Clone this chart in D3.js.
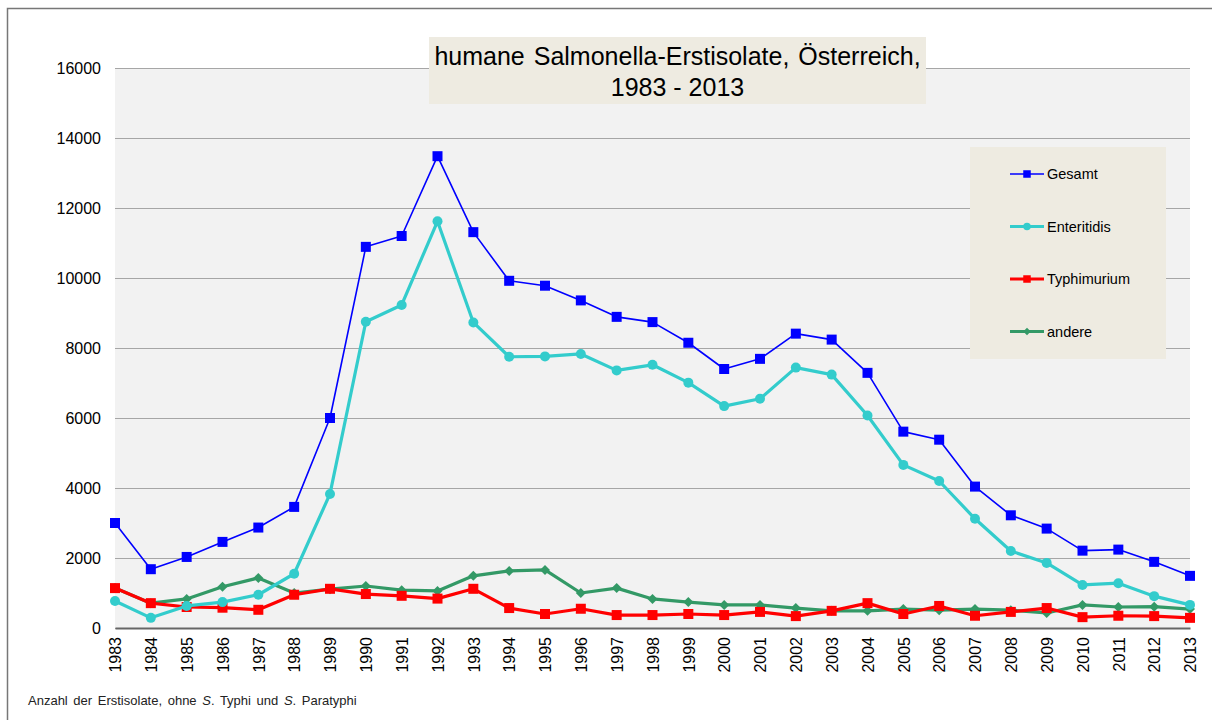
<!DOCTYPE html>
<html>
<head>
<meta charset="utf-8">
<script src="https://cdn.jsdelivr.net/npm/d3@7"></script>
<style>
  body { margin: 0; background: #fff; }
  text { font-family: "Liberation Sans", Arial, sans-serif; }
</style>
</head>
<body>
<div class="chart"></div>
<script>
var years = d3.range(1983, 2014);

var gesamt = [3000, 1680, 2030, 2460, 2870, 3460, 6000, 10890, 11200, 13480,
              11310, 9920, 9780, 9360, 8890, 8740, 8150, 7400, 7690, 8410,
              8240, 7290, 5610, 5380, 4040, 3220, 2840, 2210, 2240, 1890, 1490];
var enteritidis = [770, 290, 630, 740, 950, 1550, 3830, 8750, 9230, 11620,
                   8730, 7750, 7760, 7830, 7360, 7520, 7010, 6340, 6550, 7440,
                   7240, 6070, 4660, 4200, 3120, 2200, 1860, 1230, 1280, 910, 660];
var typhimurium = [1140, 710, 600, 580, 520, 950, 1120, 970, 920, 840,
                   1120, 570, 400, 550, 370, 370, 400, 370, 460, 340,
                   490, 710, 400, 630, 350, 460, 570, 310, 350, 340, 290];
var andere = [1140, 710, 830, 1180, 1430, 1000, 1110, 1200, 1080, 1060,
              1490, 1630, 1660, 1000, 1140, 830, 740, 660, 660, 570,
              490, 490, 540, 510, 540, 510, 430, 660, 600, 610, 540];

var yTicks = [0, 2000, 4000, 6000, 8000, 10000, 12000, 14000, 16000];

var series = [
  { name: "Gesamt", values: gesamt, color: "#0000ff", width: 1.6, marker: "square", size: 10 },
  { name: "Enteritidis", values: enteritidis, color: "#33cccc", width: 3.2, marker: "circle", size: 5 },
  { name: "Typhimurium", values: typhimurium, color: "#ff0000", width: 3.2, marker: "square", size: 10 },
  { name: "andere", values: andere, color: "#339966", width: 3.2, marker: "diamond", size: 5 }
];

var width = 1212;
var height = 720;
var margin = { top: 68, right: 22, bottom: 92, left: 115 };

var svg = d3.select(".chart")
            .append("svg")
              .attr("width", width)
              .attr("height", height);

// outer frame
svg.append("rect")
   .attr("x", 7.5).attr("y", 8.5)
   .attr("width", width).attr("height", height)
   .attr("fill", "none")
   .attr("stroke", "#777")
   .attr("stroke-width", 1.5);

var x = d3.scaleLinear()
          .domain([1983, 2013])
          .range([margin.left, width - margin.right]);

var y = d3.scaleLinear()
          .domain([0, 16000])
          .range([height - margin.bottom, margin.top]);

// plot background
svg.append("rect")
   .attr("x", x(1983)).attr("y", y(16000))
   .attr("width", x(2013) - x(1983))
   .attr("height", y(0) - y(16000))
   .attr("fill", "#f2f2f2");

// grid lines + y labels
svg.append("g")
   .attr("transform", "translate(" + x(1983) + ",0)")
   .call(d3.axisLeft(y).tickValues(yTicks).tickSize(-(x(2013) - x(1983))).tickPadding(14).tickFormat(d3.format("d")))
   .call(function(g) {
     g.select(".domain").remove();
     g.selectAll(".tick line").attr("stroke", "#a6a6a6").attr("stroke-width", 1.2);
     g.selectAll(".tick text").attr("font-size", "16px").attr("fill", "#000")
      .style("font-family", "'Liberation Sans', Arial, sans-serif");
   });

// x axis
svg.append("g")
   .attr("transform", "translate(0," + y(0) + ")")
   .call(d3.axisBottom(x).tickValues(years).tickSize(0).tickFormat(d3.format("d")))
   .call(function(g) {
     g.select(".domain").attr("stroke", "#666").attr("stroke-width", 2);
     g.selectAll(".tick text")
      .attr("transform", "rotate(-90)")
      .attr("text-anchor", "end")
      .attr("x", -9)
      .attr("y", 0)
      .attr("dy", "0.36em")
      .attr("font-size", "16px")
      .attr("fill", "#000")
      .style("font-family", "'Liberation Sans', Arial, sans-serif");
   });

var line = d3.line()
             .x(function(d, i) { return x(years[i]); })
             .y(function(d) { return y(d); });

function drawMarker(g, s, cx, cy, scale) {
  var k = scale || 1;
  if (s.marker === "square") {
    g.append("rect")
     .attr("x", cx - s.size * k / 2).attr("y", cy - s.size * k / 2)
     .attr("width", s.size * k).attr("height", s.size * k)
     .attr("fill", s.color);
  } else if (s.marker === "circle") {
    g.append("circle")
     .attr("cx", cx).attr("cy", cy).attr("r", s.size * k)
     .attr("fill", s.color);
  } else {
    var r = s.size * k;
    g.append("path")
     .attr("d", "M" + cx + "," + (cy - r) + "L" + (cx + r) + "," + cy + "L" + cx + "," + (cy + r) + "L" + (cx - r) + "," + cy + "Z")
     .attr("fill", s.color);
  }
}

// draw in reverse so Gesamt ends up on top
series.slice().reverse().forEach(function(s) {
  var g = svg.append("g");
  g.append("path")
   .attr("d", line(s.values))
   .attr("fill", "none")
   .attr("stroke", s.color)
   .attr("stroke-width", s.width)
   .attr("stroke-linejoin", "round");
  s.values.forEach(function(v, i) {
    drawMarker(g, s, x(years[i]), y(v));
  });
});

// title
svg.append("rect")
   .attr("x", 429).attr("y", 37)
   .attr("width", 497).attr("height", 67)
   .attr("fill", "#eeebe1");
svg.append("text")
   .attr("x", 677.5).attr("y", 65)
   .attr("text-anchor", "middle")
   .attr("font-size", "25px")
   .attr("word-spacing", "2px")
   .text("humane Salmonella-Erstisolate, Österreich,");
svg.append("text")
   .attr("x", 677.5).attr("y", 96)
   .attr("text-anchor", "middle")
   .attr("font-size", "25px")
   .text("1983 - 2013");

// legend
svg.append("rect")
   .attr("x", 970).attr("y", 147)
   .attr("width", 196).attr("height", 212)
   .attr("fill", "#eeebe1");

series.forEach(function(s, i) {
  var ly = 174 + i * 52.5;
  var g = svg.append("g");
  g.append("line")
   .attr("x1", 1010).attr("x2", 1044)
   .attr("y1", ly).attr("y2", ly)
   .attr("stroke", s.color)
   .attr("stroke-width", s.width);
  drawMarker(g, s, 1027, ly, 0.75);
  g.append("text")
   .attr("x", 1047).attr("y", ly)
   .attr("dy", "0.35em")
   .attr("font-size", "14.5px")
   .text(s.name);
});

// footnote
var note = svg.append("text")
              .attr("x", 28).attr("y", 705)
              .attr("font-size", "13px")
              .attr("word-spacing", "2px")
              .attr("fill", "#222");
note.append("tspan").text("Anzahl der Erstisolate, ohne ");
note.append("tspan").attr("font-style", "italic").text("S");
note.append("tspan").text(". Typhi und ");
note.append("tspan").attr("font-style", "italic").text("S");
note.append("tspan").text(". Paratyphi");
</script>
</body>
</html>
